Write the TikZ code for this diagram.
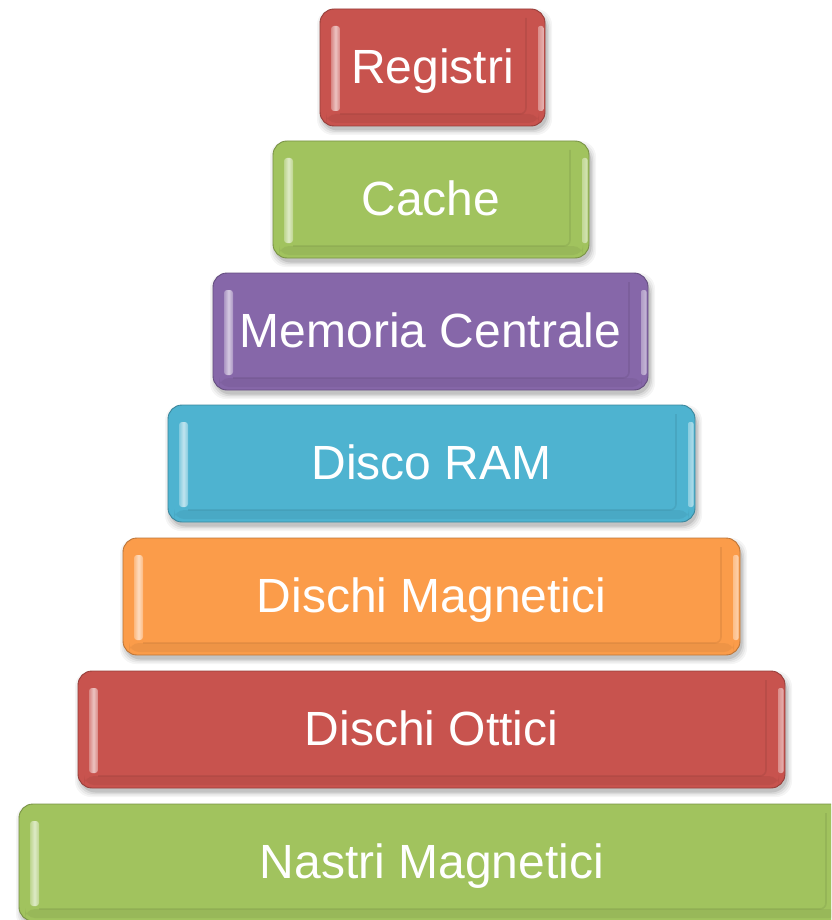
\documentclass[tikz,border=0pt]{standalone}
\usepackage{fontspec}
\setmainfont{Liberation Sans}
\definecolor{tierred}{HTML}{C8534E}
\definecolor{tiergreen}{HTML}{A1C35E}
\definecolor{tierpurple}{HTML}{8667A9}
\definecolor{tierblue}{HTML}{4EB3D0}
\definecolor{tierorange}{HTML}{FB9C4A}
\begin{document}
\begin{tikzpicture}[x=1pt,y=-1pt,
  tierlabel/.style={text=white, font=\fontsize{48}{56}\selectfont, inner sep=0pt, anchor=base},
]
\useasboundingbox (0,0) rectangle (831,920);
\clip (0,0) rectangle (831,920);
% memory hierarchy tiers: name / left / right / top / colour / label
\foreach \nm/\l/\r/\t/\c/\txt in {
  reg/320/545/9/tierred/Registri,
  cache/273/589/141/tiergreen/Cache,
  mem/213/648/273/tierpurple/Memoria Centrale,
  ram/168/695/405/tierblue/Disco RAM,
  magn/123/740/538/tierorange/Dischi Magnetici,
  ott/78/785/671/tierred/Dischi Ottici,
  nastri/19/845/804/tiergreen/Nastri Magnetici}{
  \pgfmathsetmacro\b{\t+117}
  \pgfmathsetmacro\cx{(\l+\r)/2}
  % soft drop shadow
  \foreach \k/\o in {5/0.04,3.5/0.05,2/0.07,0.5/0.1}{
    \fill[black, opacity=\o, rounded corners=16] (\l+2-\k,\t+5-\k) rectangle (\r+2+\k,\b+4+\k);
  }
  % body
  \fill[\c, rounded corners=14] (\l,\t) rectangle (\r,\b);
  % darker lower band of the bevel
  \fill[\c!90!black, opacity=0.5, rounded corners=10] (\l+6,\b-12) rectangle (\r-6,\b-3);
  \draw[\c!75!black, line width=0.9, rounded corners=14] (\l,\t) rectangle (\r,\b);
  % inner bevel edge on the right and bottom
  \draw[\c!82!black, opacity=0.4, line width=1.6, rounded corners=6]
    (\r-19,\t+9) -- (\r-19,\b-12) -- (\l+20,\b-12);
  % edge highlights, brightest in the middle
  \shade[left color=\c!70!white, right color=\c!70!white, middle color=\c!35!white, rounded corners=3]
    (\l+11,\t+17) rectangle (\l+20,\b-15);
  \shade[left color=\c!65!white, right color=\c!45!white, rounded corners=2]
    (\r-7,\t+17) rectangle (\r-1.5,\b-15);
  % label
  \node[tierlabel] (\nm) at (\cx,\t+74.5) {\txt};
}
\end{tikzpicture}
\end{document}
